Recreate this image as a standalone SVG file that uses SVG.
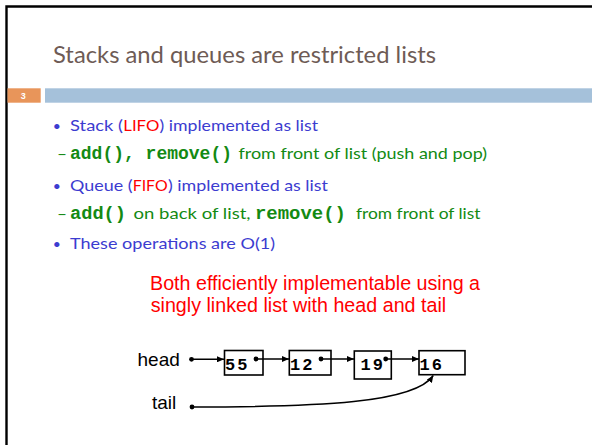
<svg xmlns="http://www.w3.org/2000/svg" width="592" height="445" viewBox="0 0 592 445">
<defs>
<style>
.title{font-family:Lato,"Liberation Sans",sans-serif;font-size:23px;fill:#6e5b55}
.b{font-family:Lato,"Liberation Sans",sans-serif;font-size:16px;fill:#3c3cd0}
.r{fill:#ff0000}
.g{font-family:Lato,"Liberation Sans",sans-serif;font-size:16px;fill:#138a13}
.code{font-family:"Liberation Mono","Courier New",monospace;font-weight:bold;font-size:18px;fill:#138a13}
.bul{font-family:Lato,"Liberation Sans",sans-serif;font-size:14px;fill:#3c3cd0}
.red{font-family:"Liberation Sans",Arial,sans-serif;font-size:19.7px;fill:#ff0000}
.lbl{font-family:"Liberation Sans",Arial,sans-serif;font-size:19px;fill:#000}
.num{font-family:"Liberation Mono","Courier New",monospace;font-weight:bold;font-size:17px;fill:#000;letter-spacing:2px}
.box{fill:#fff;stroke:#000;stroke-width:1.6}
.ln{fill:none;stroke:#000;stroke-width:1.4}
</style>
<marker id="ah" markerUnits="userSpaceOnUse" markerWidth="8" markerHeight="6" refX="7" refY="3" orient="auto">
<path d="M0,0 L7,3 L0,6 Z" fill="#000"/>
</marker>
</defs>
<rect width="592" height="445" fill="#fff"/>
<path d="M6.5,445 V6.5 H592" fill="none" stroke="#000" stroke-width="2.4"/>
<text class="title" x="53" y="63.3" textLength="383" lengthAdjust="spacingAndGlyphs">Stacks and queues are restricted lists</text>
<rect x="7.5" y="88.3" width="33.2" height="14.4" fill="#e8955a"/>
<text x="23.3" y="99" font-family="Liberation Sans,Arial,sans-serif" font-size="9" font-weight="bold" fill="#fff" text-anchor="middle">3</text>
<rect x="45" y="88.3" width="547" height="14.4" fill="#a5c1da"/>

<g id="bullets">
<text class="bul" x="56.7" y="130.5" text-anchor="middle">•</text>
<text class="b" x="70" y="130.7" textLength="53" lengthAdjust="spacingAndGlyphs">Stack (</text>
<text class="b r" x="123.3" y="130.7" textLength="36" lengthAdjust="spacingAndGlyphs">LIFO</text>
<text class="b" x="159.5" y="130.7" textLength="158.5" lengthAdjust="spacingAndGlyphs">) implemented as list</text>

<text class="g" x="57" y="159" textLength="10" lengthAdjust="spacingAndGlyphs">–</text>
<text class="code" x="70" y="159" textLength="162" lengthAdjust="spacingAndGlyphs">add(), remove()</text>
<text class="g" x="238.5" y="159" textLength="248.5" lengthAdjust="spacingAndGlyphs">from front of list (push and pop)</text>

<text class="bul" x="56.7" y="190.5" text-anchor="middle">•</text>
<text class="b" x="70" y="190.7" textLength="62.5" lengthAdjust="spacingAndGlyphs">Queue (</text>
<text class="b r" x="132.7" y="190.7" textLength="35" lengthAdjust="spacingAndGlyphs">FIFO</text>
<text class="b" x="168" y="190.7" textLength="160" lengthAdjust="spacingAndGlyphs">) implemented as list</text>

<text class="g" x="57" y="219.3" textLength="10" lengthAdjust="spacingAndGlyphs">–</text>
<text class="code" x="70" y="219.3" textLength="56" lengthAdjust="spacingAndGlyphs">add()</text>
<text class="g" x="133.5" y="219.3" textLength="117" lengthAdjust="spacingAndGlyphs">on back of list,</text>
<text class="code" x="255" y="219.3" textLength="91" lengthAdjust="spacingAndGlyphs">remove()</text>
<text class="g" x="356" y="219.3" textLength="124.5" lengthAdjust="spacingAndGlyphs">from front of list</text>

<text class="bul" x="56.7" y="249.1" text-anchor="middle">•</text>
<text class="b" x="70" y="249.3" textLength="205" lengthAdjust="spacingAndGlyphs">These operations are O(1)</text>
</g>

<g id="caption">
<text class="red" x="150" y="290" textLength="330" lengthAdjust="spacingAndGlyphs">Both efficiently implementable using a</text>
<text class="red" x="150.7" y="311.7" textLength="295.5" lengthAdjust="spacingAndGlyphs">singly linked list with head and tail</text>
</g>

<g id="head"><text class="lbl" x="137.5" y="366">head</text></g>
<g id="tail"><text class="lbl" x="152" y="409.3">tail</text></g>

<g id="node55"><rect class="box" x="224.5" y="350.5" width="38.5" height="24.5"/><text class="num" x="225" y="370">55</text></g>
<g id="node12"><rect class="box" x="289.3" y="350.5" width="41.7" height="24.5"/><text class="num" x="290" y="370">12</text></g>
<g id="node19"><rect class="box" x="354.3" y="351" width="37" height="28"/><text class="num" x="360.5" y="370">19</text></g>
<g id="node16"><rect class="box" x="419" y="350.7" width="46" height="24"/><text class="num" x="419.5" y="370">16</text></g>

<g id="connectors">
<path class="ln" d="M191.5,359.3 H224" marker-end="url(#ah)"/>
<path class="ln" d="M256,359 H289" marker-end="url(#ah)"/>
<path class="ln" d="M321,359 H354" marker-end="url(#ah)"/>
<path class="ln" d="M385.7,359 H419" marker-end="url(#ah)"/>
<path class="ln" d="M192,407 C320,407 415,403 433.3,375.5" marker-end="url(#ah)" stroke-width="1.8"/>
<circle cx="191.5" cy="359.3" r="2.4"/>
<circle cx="256" cy="359" r="2.4"/>
<circle cx="321" cy="359" r="2.4"/>
<circle cx="385.7" cy="359" r="2.4"/>
<circle cx="192" cy="407" r="2.4"/>
</g>
</svg>
